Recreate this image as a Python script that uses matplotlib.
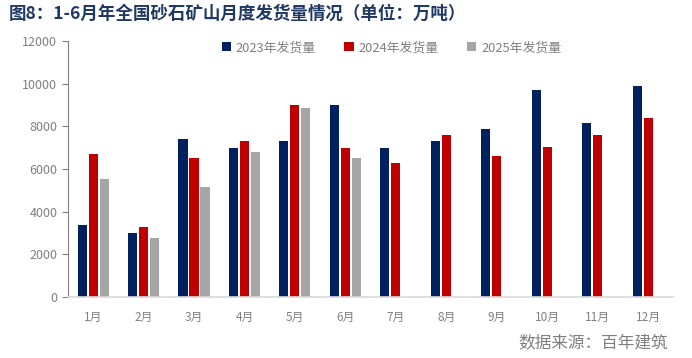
"""Monthly sand & gravel mine shipments, 2023-2025."""

import matplotlib

matplotlib.use("Agg")
import matplotlib.pyplot as plt
import numpy as np

plt.rcParams["font.family"] = ["Noto Sans CJK SC", "DejaVu Sans"]

months = ["1月", "2月", "3月", "4月", "5月", "6月",
          "7月", "8月", "9月", "10月", "11月", "12月"]
ship_2023 = [3400, 3000, 7400, 7000, 7300, 9000, 7000, 7300, 7900, 9700, 8150, 9900]
ship_2024 = [6700, 3300, 6500, 7300, 9000, 7000, 6300, 7600, 6600, 7050, 7600, 8400]
ship_2025 = [5550, 2780, 5170, 6800, 8850, 6520]
labels = ["2023年发货量", "2024年发货量", "2025年发货量"]

navy, red, grey = "#002060", "#C00000", "#A5A5A5"
txt = "#808080"

fig = plt.figure(figsize=(6.92, 3.58), dpi=100)
ax = fig.add_axes([0.098, 0.170, 0.875, 0.715])

x = np.arange(len(months))
w, off = 0.18, 0.218
ax.bar(x - off, ship_2023, w, color=navy, label=labels[0])
ax.bar(x, ship_2024, w, color=red, label=labels[1])
ax.bar(x[:len(ship_2025)] + off, ship_2025, w, color=grey, label=labels[2])

ax.set_xlim(-0.5, len(months) - 0.5)
ax.set_ylim(0, 12000)
ax.set_yticks(np.arange(0, 12001, 2000))
ax.set_xticks(x)
ax.set_xticklabels(months)
ax.tick_params(axis="x", length=0, pad=10, labelsize=8.5, colors=txt)
ax.tick_params(axis="y", length=4, width=0.8, color="#808080", labelsize=9, colors=txt)

for s in ("top", "right"):
    ax.spines[s].set_visible(False)
ax.spines["left"].set_color("#808080")
ax.spines["bottom"].set_color("#D9D9D9")
ax.spines["bottom"].set_linewidth(1.2)

leg = ax.legend(loc="upper left", bbox_to_anchor=(0.235, 1.045), ncol=3, frameon=False,
                fontsize=9.3, handlelength=0.7, handleheight=0.7, handletextpad=0.4,
                columnspacing=2.2)
for t in leg.get_texts():
    t.set_color(txt)

fig.text(0.012, 0.962, "图8：1-6月年全国砂石矿山月度发货量情况（单位：万吨）",
         fontsize=12.6, fontweight="bold", color="#1F3864", va="center")
fig.text(0.965, 0.042, "数据来源：百年建筑", fontsize=12, color="#7F7F7F",
         ha="right", va="center")

fig.savefig("out.png", dpi=100)
plt.close(fig)
